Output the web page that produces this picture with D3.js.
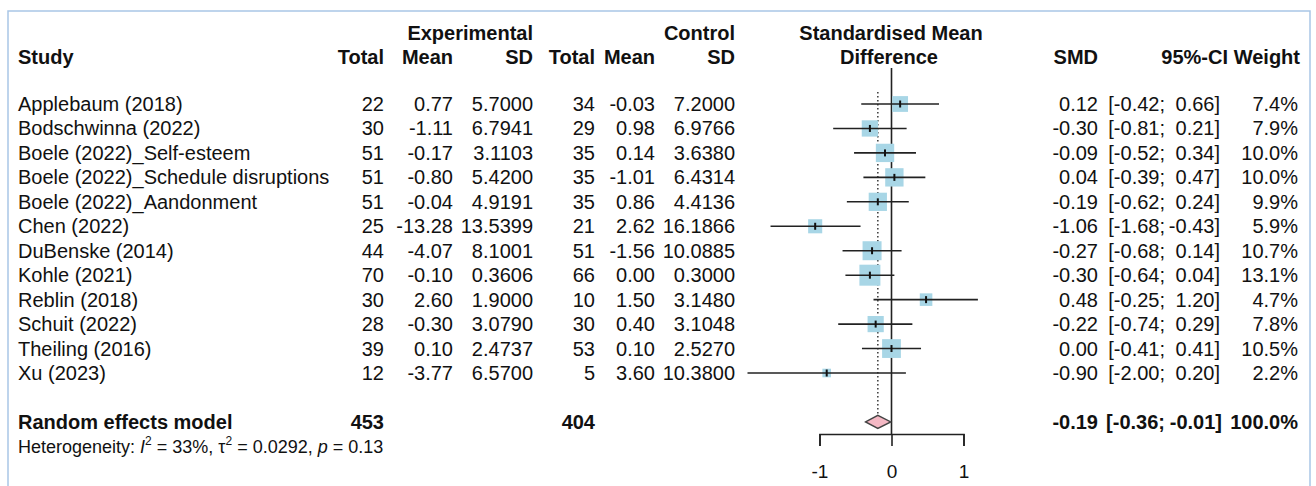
<!DOCTYPE html>
<html><head><meta charset="utf-8">
<script src="https://cdn.jsdelivr.net/npm/d3@7"></script>
<style>body{margin:0;background:#fff}svg{display:block;font-family:"Liberation Sans",Arial,sans-serif}</style>
</head><body><svg id="c" width="1316" height="486"></svg>
<script>
const studies=["Applebaum (2018)","Bodschwinna (2022)","Boele (2022)_Self-esteem","Boele (2022)_Schedule disruptions","Boele (2022)_Aandonment","Chen (2022)","DuBenske (2014)","Kohle (2021)","Reblin (2018)","Schuit (2022)","Theiling (2016)","Xu (2023)"];
const expTotal=[22,30,51,51,51,25,44,70,30,28,39,12];
const expMean=[0.77,-1.11,-0.17,-0.80,-0.04,-13.28,-4.07,-0.10,2.60,-0.30,0.10,-3.77];
const expSD=[5.7000,6.7941,3.1103,5.4200,4.9191,13.5399,8.1001,0.3606,1.9000,3.0790,2.4737,6.5700];
const ctrlTotal=[34,29,35,35,35,21,51,66,10,30,53,5];
const ctrlMean=[-0.03,0.98,0.14,-1.01,0.86,2.62,-1.56,0.00,1.50,0.40,0.10,3.60];
const ctrlSD=[7.2000,6.9766,3.6380,6.4314,4.4136,16.1866,10.0885,0.3000,3.1480,3.1048,2.5270,10.3800];
const smd=[0.12,-0.30,-0.09,0.04,-0.19,-1.06,-0.27,-0.30,0.48,-0.22,0.00,-0.90];
const lower=[-0.42,-0.81,-0.52,-0.39,-0.62,-1.68,-0.68,-0.64,-0.25,-0.74,-0.41,-2.00];
const upper=[0.66,0.21,0.34,0.47,0.24,-0.43,0.14,0.04,1.20,0.29,0.41,0.20];
const weight=[7.4,7.9,10.0,10.0,9.9,5.9,10.7,13.1,4.7,7.8,10.5,2.2];
const pooledLabel="Random effects model";
const pooledTotals=[453,404];
const pooled=[-0.19,-0.36,-0.01];
const pooledWeight=100.0;
const axisTicks=[-1,0,1];

const svg=d3.select("#c");
const FS=20;
const x=d3.scaleLinear().domain([-1,1]).range([819.5,963.5]);
const y=d3.scaleLinear().domain([0,11]).range([104,373]);
const yP=y(13), yH=y(14), yAxis=434;

svg.append("rect").attr("x",8).attr("y",11).attr("width",1302).attr("height",500)
  .attr("fill","none").attr("stroke","#a9c6e6").attr("stroke-width",1.5);

function txt(xp,yp,s,anchor,bold,size){
  return svg.append("text").attr("x",xp).attr("y",yp).attr("dy","0.35em")
    .attr("text-anchor",anchor||"end").attr("font-size",size||FS)
    .attr("font-weight",bold?"bold":"normal").attr("fill","#111").text(s);
}
// headers
const h1=33,h2=57;
txt(533,h1,"Experimental","end",true);
txt(735,h1,"Control","end",true);
txt(891,h1,"Standardised Mean","middle",true);
txt(18,h2,"Study","start",true);
[[384,"Total"],[453,"Mean"],[533,"SD"],[595,"Total"],[655,"Mean"],[735,"SD"]].forEach(d=>txt(d[0],h2,d[1],"end",true));
txt(889,h2,"Difference","middle",true);
txt(1098,h2,"SMD","end",true);
txt(1228,h2,"95%-CI","end",true);
txt(1300,h2,"Weight","end",true);

// reference lines
svg.append("line").attr("x1",x(0)).attr("x2",x(0)).attr("y1",68).attr("y2",yAxis)
  .attr("stroke","#222").attr("stroke-width",1.6);
svg.append("line").attr("x1",x(pooled[0])).attr("x2",x(pooled[0])).attr("y1",92).attr("y2",yP-6)
  .attr("stroke","#444").attr("stroke-width",1.6).attr("stroke-dasharray","1.6,2.4");

// study rows
studies.forEach((s,i)=>{
  const yy=y(i);
  txt(18,yy,s,"start");
  txt(384,yy,expTotal[i]);
  txt(453,yy,expMean[i].toFixed(2));
  txt(533,yy,expSD[i].toFixed(4));
  txt(595,yy,ctrlTotal[i]);
  txt(655,yy,ctrlMean[i].toFixed(2));
  txt(735,yy,ctrlSD[i].toFixed(4));
  txt(1098,yy,smd[i].toFixed(2));
  txt(1165,yy,"["+lower[i].toFixed(2)+";");
  txt(1220,yy,upper[i].toFixed(2)+"]");
  txt(1298,yy,weight[i].toFixed(1)+"%");
  const side=5.8*Math.sqrt(weight[i]);
  svg.append("rect").attr("x",x(smd[i])-side/2).attr("y",yy-side/2).attr("width",side).attr("height",side)
    .attr("fill","#a8d6e6");
  svg.append("line").attr("x1",x(lower[i])).attr("x2",x(upper[i])).attr("y1",yy).attr("y2",yy)
    .attr("stroke","#222").attr("stroke-width",1.6);
  svg.append("line").attr("x1",x(smd[i])).attr("x2",x(smd[i])).attr("y1",yy-3.5).attr("y2",yy+3.5)
    .attr("stroke","#111").attr("stroke-width",2);
});

// pooled
txt(18,yP,pooledLabel,"start",true);
txt(384,yP,pooledTotals[0],"end",true);
txt(595,yP,pooledTotals[1],"end",true);
txt(1098,yP,pooled[0].toFixed(2),"end",true);
txt(1165,yP,"["+pooled[1].toFixed(2)+";","end",true);
txt(1222,yP,pooled[2].toFixed(2)+"]","end",true);
txt(1298,yP,pooledWeight.toFixed(1)+"%","end",true);
const dh=6.5;
svg.append("path").attr("d",`M${x(pooled[1])},${yP}L${x(pooled[0])},${yP-dh}L${x(pooled[2])},${yP}L${x(pooled[0])},${yP+dh}Z`)
  .attr("fill","#f4b8c4").attr("stroke","#444").attr("stroke-width",1.4);

// heterogeneity
const ht=svg.append("text").attr("x",18).attr("y",yH).attr("dy","0.35em").attr("font-size",18).attr("fill","#111");
ht.append("tspan").text("Heterogeneity: ");
ht.append("tspan").attr("font-style","italic").text("I");
ht.append("tspan").attr("dy","-8").attr("font-size",12).text("2");
ht.append("tspan").attr("dy","8").text(" = 33%, \u03c4");
ht.append("tspan").attr("dy","-8").attr("font-size",12).text("2");
ht.append("tspan").attr("dy","8").text(" = 0.0292, ");
ht.append("tspan").attr("font-style","italic").text("p");
ht.append("tspan").text(" = 0.13");

// axis
const ax=svg.append("g").attr("transform",`translate(0,${yAxis})`)
  .call(d3.axisBottom(x).tickValues(axisTicks).tickSize(12).tickSizeOuter(12).tickPadding(19).tickFormat(d=>String(d)));
ax.selectAll("path,line").attr("stroke","#222").attr("stroke-width",1.6);
ax.selectAll("text").attr("font-size",19).attr("fill","#111").attr("font-family","Liberation Sans, Arial, sans-serif");
</script></body></html>
